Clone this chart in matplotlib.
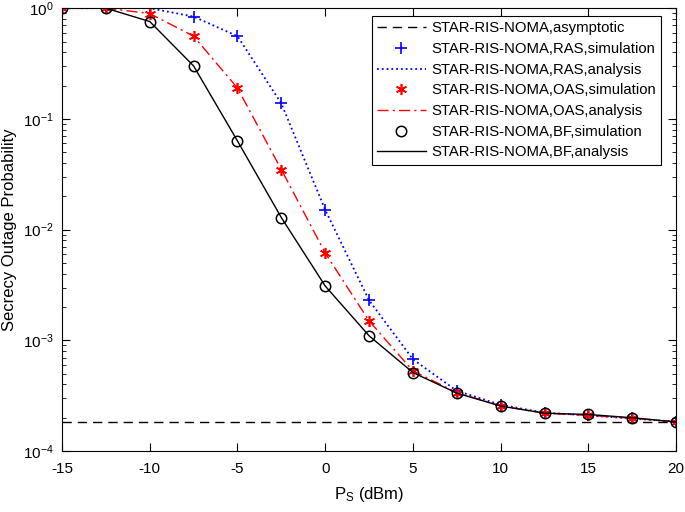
import matplotlib

matplotlib.use("Agg")
import matplotlib.pyplot as plt  # noqa: E402

plt.rcParams["font.family"] = ["Liberation Sans", "DejaVu Sans"]
plt.rcParams["mathtext.fontset"] = "custom"
plt.rcParams["mathtext.rm"] = "Liberation Sans"
plt.rcParams["mathtext.it"] = "Liberation Sans"
plt.rcParams["axes.unicode_minus"] = False

ps_dbm = [-15, -12.5, -10, -7.5, -5, -2.5, 0, 2.5, 5, 7.5, 10, 12.5, 15, 17.5, 20]

ras = [1.0, 1.0, 1.0, 0.84, 0.559, 0.138, 0.0151, 0.0023, 6.75e-4, 3.5e-4,
       2.62e-4, 2.22e-4, 2.1e-4, 1.97e-4, 1.84e-4]
oas = [1.0, 1.0, 0.895, 0.559, 0.19, 0.0349, 0.00616, 0.0015, 5.3e-4, 3.38e-4,
       2.56e-4, 2.2e-4, 2.1e-4, 1.98e-4, 1.84e-4]
bf = [1.0, 1.0, 0.758, 0.301, 0.0633, 0.01285, 0.0031, 0.0011, 5.12e-4, 3.34e-4,
      2.55e-4, 2.2e-4, 2.14e-4, 2.0e-4, 1.83e-4]
asymptote = 1.84e-4

fig = plt.figure(figsize=(6.85, 5.12), dpi=100)
ax = fig.add_axes([0.0905, 0.119, 0.8965, 0.865])

ax.plot([ps_dbm[0], ps_dbm[-1]], [asymptote, asymptote], color="black",
        linewidth=1, dashes=(6.7, 4.3), label="STAR-RIS-NOMA,asymptotic")
ax.plot(ps_dbm, ras, linestyle="none", marker="+", color="blue", markersize=8,
        markeredgewidth=1.2, label="STAR-RIS-NOMA,RAS,simulation")
ax.plot(ps_dbm, ras, linestyle=":", color="blue", linewidth=1.3,
        label="STAR-RIS-NOMA,RAS,analysis")
ax.plot(ps_dbm, oas, linestyle="none", marker=(6, 2, 0), color="red", markersize=8,
        markeredgewidth=1.2, label="STAR-RIS-NOMA,OAS,simulation")
ax.plot(ps_dbm, oas, color="red", linewidth=1, dashes=(8, 3, 1.5, 3),
        label="STAR-RIS-NOMA,OAS,analysis")
ax.plot(ps_dbm, bf, linestyle="none", marker="o", markerfacecolor="none",
        markeredgecolor="black", markersize=7.5, markeredgewidth=1.1,
        label="STAR-RIS-NOMA,BF,simulation")
ax.plot(ps_dbm, bf, color="black", linewidth=1, label="STAR-RIS-NOMA,BF,analysis")

ax.set_yscale("log")
ax.set_xlim(-15, 20)
ax.set_ylim(1e-4, 1)
ax.set_xticks(range(-15, 21, 5))
ax.tick_params(which="both", direction="in", top=True, right=True, labelsize=11)
ax.tick_params(axis="x", which="minor", bottom=False, top=False)
ax.tick_params(which="major", length=6)
ax.tick_params(which="minor", length=3)
ax.tick_params(axis="x", pad=8)
ax.tick_params(axis="y", pad=6)
ax.set_xlabel("P$_S$ (dBm)", fontsize=12, labelpad=6)
ax.set_ylabel("Secrecy Outage Probability", fontsize=12)

leg = ax.legend(loc="upper right", fontsize=10.7, fancybox=False, framealpha=1,
                edgecolor="black", handlelength=3.3, borderpad=0.35,
                labelspacing=0.45, handletextpad=0.35, borderaxespad=0,
                bbox_to_anchor=(0.9756, 0.982))
leg.get_frame().set_linewidth(0.8)

fig.savefig("out.png", dpi=100)
plt.close(fig)
